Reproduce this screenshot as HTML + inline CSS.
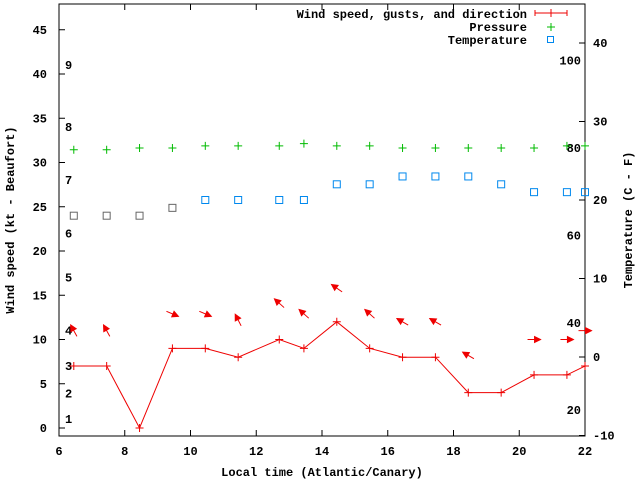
<!DOCTYPE html>
<html><head><meta charset="utf-8"><style>
body{margin:0;background:#fff}
svg text{font-family:"Liberation Mono","DejaVu Sans Mono",monospace;font-size:12px;font-weight:bold;fill:#000}
</style></head><body>
<svg id="chart" width="640" height="480" xmlns="http://www.w3.org/2000/svg">
<rect x="59" y="4" width="526" height="432" fill="none" stroke="#000"/>
<g id="axes"></g><g id="marks"></g>
<text x="14" y="220" transform="rotate(-90 14 220)" text-anchor="middle">Wind speed (kt - Beaufort)</text>
<text x="632" y="220" transform="rotate(-90 632 220)" text-anchor="middle">Temperature (C - F)</text>
<text x="322" y="476" text-anchor="middle">Local time (Atlantic/Canary)</text>
<g>
<text x="527" y="18" text-anchor="end">Wind speed, gusts, and direction</text>
<path d="M535 13H567M535 10V16M567 10V16M551 9V17" stroke="#e00" fill="none"/>
<text x="527" y="31" text-anchor="end">Pressure</text>
<path d="M547 27H555M551 23V31" stroke="#0b0"/>
<text x="527" y="44" text-anchor="end">Temperature</text>
<rect x="547.5" y="36.5" width="6" height="6" fill="none" stroke="#08e"/>
</g>
</svg>
<script>
const times=[6.45,7.45,8.45,9.45,10.45,11.45,12.7,13.45,14.45,15.45,16.45,17.45,18.45,19.45,20.45,21.45,22];
const wind=[7,7,0,9,9,8,10,9,12,9,8,8,4,4,6,6,7];
const pressure=[79.6,79.6,80,80,80.5,80.5,80.5,81,80.5,80.5,80,80,80,80,80,80.5,80.5];
const temperature=[18,18,18,19,20,20,20,20,22,22,23,23,23,22,21,21,21];
const arrowY=[11,11,null,12.9,12.9,12.2,14.1,12.9,15.8,12.9,12,12,8.2,null,10,10,11];
const arrowAngle=[-119,-119,null,23,23,-117,-138,-138,-145,-138,-150,-150,-150,null,0,0,0];
const xTicks=[6,8,10,12,14,16,18,20,22];
const yTicks=[0,5,10,15,20,25,30,35,40,45];
const y2Ticks=[-10,0,10,20,30,40];
const fTicks=[20,40,60,80,100];
const bft=[[1,1.0],[2,3.9],[3,7],[4,11],[5,17],[6,22],[7,28],[8,34],[9,41]];
const X=t=>59+(t-6)*32.875;
const Y=v=>428-v*8.85;
const Y2=v=>357-v*7.85;
const YF=v=>148-(v-80)*4.37;
const NS="http://www.w3.org/2000/svg";
const ax=document.getElementById('axes'),mk=document.getElementById('marks');
function el(p,tag,a){const e=document.createElementNS(NS,tag);for(const k in a)e.setAttribute(k,a[k]);p.appendChild(e);return e;}
xTicks.forEach(t=>{const x=X(t);
 el(ax,'path',{d:`M${x} 436V430M${x} 4V10`,stroke:'#000'});
 const tx=el(ax,'text',{x:x,y:455,'text-anchor':'middle'});tx.textContent=t;
 
 });
yTicks.forEach(v=>{const y=Y(v);
 el(ax,'path',{d:`M59 ${y}H65`,stroke:'#000'});
 const tx=el(ax,'text',{x:47,y:y+4,'text-anchor':'end'});tx.textContent=v;
 
 });
y2Ticks.forEach(v=>{const y=Y2(v);
 el(ax,'path',{d:`M585 ${y}H579`,stroke:'#000'});
 const tx=el(ax,'text',{x:593,y:y+4});tx.textContent=v;
 
 });
fTicks.forEach(v=>{const tx=el(ax,'text',{x:581,y:YF(v)+4,'text-anchor':'end'});tx.textContent=v;
 
 });
bft.forEach(b=>{const tx=el(ax,'text',{x:65,y:Y(b[1])+4});tx.textContent=b[0];
 
 });
const line=el(mk,'polyline',{points:times.map((t,i)=>X(t)+','+Y(wind[i])).join(' '),fill:'none',stroke:'#e00'});


times.forEach((t,i)=>{const x=X(t),y=Y(wind[i]);
 const m=el(mk,'path',{d:`M${x-4} ${y}H${x+4}M${x} ${y-4}V${y+4}`,stroke:'#e00'});
 
 
 const py=Y(0)-(YF(pressure[i])-Y(0))*0+0;const yy=YF(pressure[i]);
 const p=el(mk,'path',{d:`M${x-4} ${yy}H${x+4}M${x} ${yy-4}V${yy+4}`,stroke:'#0b0'});
 
 
 const ty=Y2(temperature[i]);
 const s=el(mk,'rect',{x:x-3.5,y:ty-3.5,width:7,height:7,fill:'none',stroke:i<4?'#666':'#08e'});
 
 
 if(arrowY[i]!==null){const cy=Y(arrowY[i]);const a=arrowAngle[i]*Math.PI/180;
  const dx=Math.cos(a),dy=Math.sin(a);const hx=x+dx*6.5,hy=cy+dy*6.5,tx=x-dx*6.5,ty2=cy-dy*6.5;
  const bx=hx-dx*6,by=hy-dy*6;
  const g=el(mk,'path',{d:`M${tx} ${ty2}L${hx} ${hy}M${hx} ${hy}L${bx-dy*3} ${by+dx*3}L${bx+dy*3} ${by-dx*3}Z`,stroke:'#e00',fill:'#e00'});
  
  }
});
</script>
</body></html>
